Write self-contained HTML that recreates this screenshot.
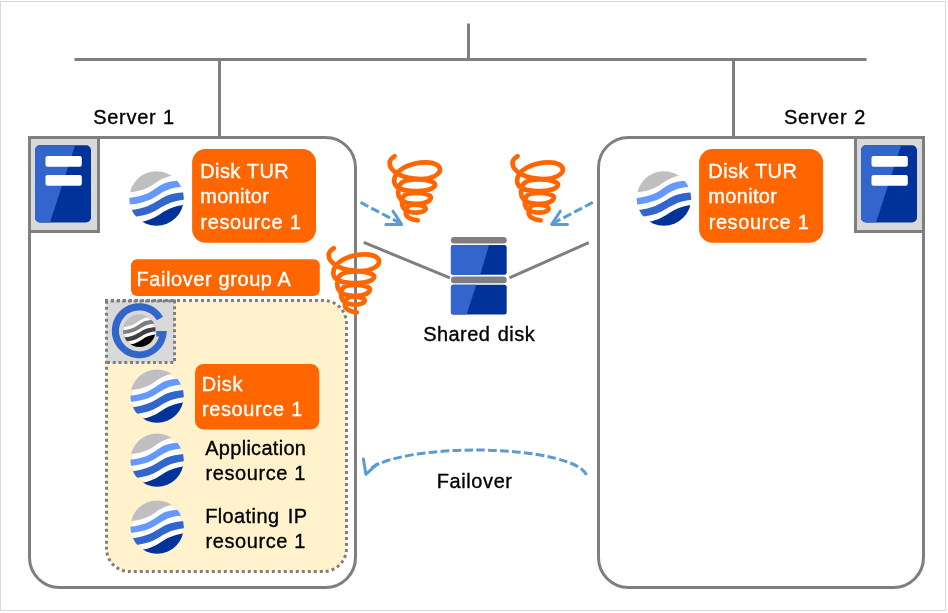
<!DOCTYPE html>
<html lang="en"><head><meta charset="utf-8"><title>Failover diagram</title>
<style>
html,body{margin:0;padding:0;background:#fff;}
body{width:948px;height:613px;overflow:hidden;}
svg{display:block;will-change:transform;}
svg text{white-space:pre;font-family:"Liberation Sans",sans-serif;font-size:20px;stroke-width:0.35px;}
</style></head><body>
<svg width="948" height="613" viewBox="0 0 948 613">
<defs>
<clipPath id="wclip"><circle cx="0" cy="0" r="27.3"/></clipPath>
</defs>
<rect x="0" y="0" width="948" height="613" fill="#fff"/>
<rect x="0.5" y="1.5" width="945" height="609" fill="none" stroke="#d9d9d9" stroke-width="1"/>

<!-- network lines and server frames -->
<g stroke="#7f7f7f" stroke-width="3" fill="none">
<line x1="74.5" y1="59.5" x2="866.5" y2="59.5"/>
<line x1="468.5" y1="23.5" x2="468.5" y2="59.5"/>
<line x1="219.5" y1="59.5" x2="219.5" y2="137.5"/>
<line x1="733.5" y1="59.5" x2="733.5" y2="137.5"/>
<path d="M29.5,137.5 H325.5 A30,30 0 0 1 355.5,167.5 V557.5 A30,30 0 0 1 325.5,587.5 H59.5 A30,30 0 0 1 29.5,557.5 Z" fill="#fff"/>
<path d="M628.5,137.5 H923.5 V557.5 A30,30 0 0 1 893.5,587.5 H628.5 A30,30 0 0 1 598.5,557.5 V167.5 A30,30 0 0 1 628.5,137.5 Z" fill="#fff"/>
<rect x="29.5" y="137.5" width="69" height="94" fill="#d9d9d9"/>
<rect x="855.5" y="137.5" width="68" height="94" fill="#d9d9d9"/>
<line x1="363.8" y1="242.4" x2="449.9" y2="277.9"/>
<line x1="509.4" y1="277.9" x2="588.8" y2="242.6"/>
</g>
<g transform="translate(35,145.3)">
<rect x="0" y="0" width="56" height="77.2" rx="5" fill="#003399"/>
<path d="M5,0 H40.1 L15,77.2 H5 A5,5 0 0 1 0,72.2 V5 A5,5 0 0 1 5,0 Z" fill="#3366cc"/>
<rect x="10.5" y="10.6" width="36.3" height="10.9" rx="2" fill="#fff"/>
<rect x="10.5" y="29.6" width="36.3" height="10.9" rx="2" fill="#fff"/>
</g>
<g transform="translate(861,145.3)">
<rect x="0" y="0" width="56" height="77.2" rx="5" fill="#003399"/>
<path d="M5,0 H40.1 L15,77.2 H5 A5,5 0 0 1 0,72.2 V5 A5,5 0 0 1 5,0 Z" fill="#3366cc"/>
<rect x="10.5" y="10.6" width="36.3" height="10.9" rx="2" fill="#fff"/>
<rect x="10.5" y="29.6" width="36.3" height="10.9" rx="2" fill="#fff"/>
</g>

<!-- failover group -->
<path d="M105,300.5 H323.5 A23,23 0 0 1 346.5,323.5 V548.5 A23,23 0 0 1 323.5,571.5 H129.5 A23,23 0 0 1 106.5,548.5 V299 Z" fill="#fff2cc"/>
<rect x="106.5" y="300.5" width="68" height="62" fill="#d9d9d9"/>
<g fill="none" stroke="#7f7f7f" stroke-width="3">
<path d="M105,300.5 H323.5 A23,23 0 0 1 346.5,323.5 V548.5 A23,23 0 0 1 323.5,571.5 H129.5 A23,23 0 0 1 106.5,548.5 V299" stroke-dasharray="3 3"/>
<path d="M105,301 H174.5 V362.5 H106.5" stroke-dasharray="3 2.75"/>
</g>

<!-- group icon -->
<g transform="translate(139.3,330.6)">
<path d="M23.7,-13.9 A27.5,27.5 0 1 0 27.5,0.5 H17 V6 H19.8 A20.5,20.5 0 1 1 17.6,-10.4 Z" fill="#3366cc"/>
</g>
<g transform="translate(139.3,330.6) scale(0.5971)" clip-path="url(#wclip)">
<circle cx="0" cy="0" r="25.4" fill="#fff"/>
<path d="M-30,-5.9 C-12.8,-6.9 -6.8,-11.4 0.19999999999999996,-16.4 C6.2,-20.4 11.2,-21.9 15.2,-22.9 L30,-23.4 L30,-40 L-30,-40 Z" fill="#bfbfbf"/>
<path d="M-30,-0.1 C-10.8,-2.1 -5.8,-6.6 1.2,-11.4 C8.2,-16.1 13.2,-17.6 30,-18.6 L30,-12.2 C15.2,-11.6 10.2,-8.6 3.2,-4.6 C-4.8,0.9 -10.8,4.4 -30,6.4 Z" fill="#7f7f7f"/>
<path d="M-30,12.1 C-10.8,10.1 -4.8,5.6 2.5999999999999996,1.4 C10.2,-3.4 15.2,-5.2 30,-6.4 L30,1 C17.2,2 12.2,4.8 4.2,9.1 C-3.8,14.3 -8.8,17.3 -30,19.3 Z" fill="#404040"/>
<path d="M-30,25.7 C-8.8,23.2 -3.8,20.2 4.2,15.2 C11.2,10.7 17.2,7.7 30,6 L30,40 L-30,40 Z" fill="#000000"/>
</g>

<!-- orange labels -->
<rect x="192.1" y="149" width="123.9" height="93.7" rx="13.5" fill="#ff6600"/>
<rect x="699.1" y="149" width="124.1" height="93.7" rx="13.5" fill="#ff6600"/>
<rect x="131" y="259.3" width="188.8" height="36.6" rx="6" fill="#ff6600"/>
<rect x="195" y="364" width="124.3" height="65.4" rx="8.5" fill="#ff6600"/>

<g transform="translate(156.5,198.5) scale(1.0000)" clip-path="url(#wclip)">
<circle cx="0" cy="0" r="27.3" fill="#fff"/>
<path d="M-30,-5.9 C-12.8,-6.9 -6.8,-11.4 0.19999999999999996,-16.4 C6.2,-20.4 11.2,-21.9 15.2,-22.9 L30,-23.4 L30,-40 L-30,-40 Z" fill="#bfbfbf"/>
<path d="M-30,-0.1 C-10.8,-2.1 -5.8,-6.6 1.2,-11.4 C8.2,-16.1 13.2,-17.6 30,-18.6 L30,-12.2 C15.2,-11.6 10.2,-8.6 3.2,-4.6 C-4.8,0.9 -10.8,4.4 -30,6.4 Z" fill="#6699ff"/>
<path d="M-30,12.1 C-10.8,10.1 -4.8,5.6 2.5999999999999996,1.4 C10.2,-3.4 15.2,-5.2 30,-6.4 L30,1 C17.2,2 12.2,4.8 4.2,9.1 C-3.8,14.3 -8.8,17.3 -30,19.3 Z" fill="#3366cc"/>
<path d="M-30,25.7 C-8.8,23.2 -3.8,20.2 4.2,15.2 C11.2,10.7 17.2,7.7 30,6 L30,40 L-30,40 Z" fill="#003399"/>
</g>
<g transform="translate(663.9,198.5) scale(1.0000)" clip-path="url(#wclip)">
<circle cx="0" cy="0" r="27.3" fill="#fff"/>
<path d="M-30,-5.9 C-12.8,-6.9 -6.8,-11.4 0.19999999999999996,-16.4 C6.2,-20.4 11.2,-21.9 15.2,-22.9 L30,-23.4 L30,-40 L-30,-40 Z" fill="#bfbfbf"/>
<path d="M-30,-0.1 C-10.8,-2.1 -5.8,-6.6 1.2,-11.4 C8.2,-16.1 13.2,-17.6 30,-18.6 L30,-12.2 C15.2,-11.6 10.2,-8.6 3.2,-4.6 C-4.8,0.9 -10.8,4.4 -30,6.4 Z" fill="#6699ff"/>
<path d="M-30,12.1 C-10.8,10.1 -4.8,5.6 2.5999999999999996,1.4 C10.2,-3.4 15.2,-5.2 30,-6.4 L30,1 C17.2,2 12.2,4.8 4.2,9.1 C-3.8,14.3 -8.8,17.3 -30,19.3 Z" fill="#3366cc"/>
<path d="M-30,25.7 C-8.8,23.2 -3.8,20.2 4.2,15.2 C11.2,10.7 17.2,7.7 30,6 L30,40 L-30,40 Z" fill="#003399"/>
</g>
<g transform="translate(157.1,396.1) scale(0.9780)" clip-path="url(#wclip)">
<circle cx="0" cy="0" r="25.2" fill="#fff"/>
<path d="M-30,-5.9 C-12.8,-6.9 -6.8,-11.4 0.19999999999999996,-16.4 C6.2,-20.4 11.2,-21.9 15.2,-22.9 L30,-23.4 L30,-40 L-30,-40 Z" fill="#bfbfbf"/>
<path d="M-30,-0.1 C-10.8,-2.1 -5.8,-6.6 1.2,-11.4 C8.2,-16.1 13.2,-17.6 30,-18.6 L30,-12.2 C15.2,-11.6 10.2,-8.6 3.2,-4.6 C-4.8,0.9 -10.8,4.4 -30,6.4 Z" fill="#6699ff"/>
<path d="M-30,12.1 C-10.8,10.1 -4.8,5.6 2.5999999999999996,1.4 C10.2,-3.4 15.2,-5.2 30,-6.4 L30,1 C17.2,2 12.2,4.8 4.2,9.1 C-3.8,14.3 -8.8,17.3 -30,19.3 Z" fill="#3366cc"/>
<path d="M-30,25.7 C-8.8,23.2 -3.8,20.2 4.2,15.2 C11.2,10.7 17.2,7.7 30,6 L30,40 L-30,40 Z" fill="#003399"/>
</g>
<g transform="translate(157.1,460.1) scale(0.9780)" clip-path="url(#wclip)">
<circle cx="0" cy="0" r="25.2" fill="#fff"/>
<path d="M-30,-5.9 C-12.8,-6.9 -6.8,-11.4 0.19999999999999996,-16.4 C6.2,-20.4 11.2,-21.9 15.2,-22.9 L30,-23.4 L30,-40 L-30,-40 Z" fill="#bfbfbf"/>
<path d="M-30,-0.1 C-10.8,-2.1 -5.8,-6.6 1.2,-11.4 C8.2,-16.1 13.2,-17.6 30,-18.6 L30,-12.2 C15.2,-11.6 10.2,-8.6 3.2,-4.6 C-4.8,0.9 -10.8,4.4 -30,6.4 Z" fill="#6699ff"/>
<path d="M-30,12.1 C-10.8,10.1 -4.8,5.6 2.5999999999999996,1.4 C10.2,-3.4 15.2,-5.2 30,-6.4 L30,1 C17.2,2 12.2,4.8 4.2,9.1 C-3.8,14.3 -8.8,17.3 -30,19.3 Z" fill="#3366cc"/>
<path d="M-30,25.7 C-8.8,23.2 -3.8,20.2 4.2,15.2 C11.2,10.7 17.2,7.7 30,6 L30,40 L-30,40 Z" fill="#003399"/>
</g>
<g transform="translate(157.1,527.1) scale(0.9780)" clip-path="url(#wclip)">
<circle cx="0" cy="0" r="25.2" fill="#fff"/>
<path d="M-30,-5.9 C-12.8,-6.9 -6.8,-11.4 0.19999999999999996,-16.4 C6.2,-20.4 11.2,-21.9 15.2,-22.9 L30,-23.4 L30,-40 L-30,-40 Z" fill="#bfbfbf"/>
<path d="M-30,-0.1 C-10.8,-2.1 -5.8,-6.6 1.2,-11.4 C8.2,-16.1 13.2,-17.6 30,-18.6 L30,-12.2 C15.2,-11.6 10.2,-8.6 3.2,-4.6 C-4.8,0.9 -10.8,4.4 -30,6.4 Z" fill="#6699ff"/>
<path d="M-30,12.1 C-10.8,10.1 -4.8,5.6 2.5999999999999996,1.4 C10.2,-3.4 15.2,-5.2 30,-6.4 L30,1 C17.2,2 12.2,4.8 4.2,9.1 C-3.8,14.3 -8.8,17.3 -30,19.3 Z" fill="#3366cc"/>
<path d="M-30,25.7 C-8.8,23.2 -3.8,20.2 4.2,15.2 C11.2,10.7 17.2,7.7 30,6 L30,40 L-30,40 Z" fill="#003399"/>
</g>

<!-- shared disk -->
<g>
<rect x="450.9" y="237" width="55.8" height="6.6" rx="3.3" fill="#7f7f7f"/>
<rect x="450.9" y="276.6" width="55.8" height="6.6" rx="3.3" fill="#7f7f7f"/>
<rect x="450.9" y="245" width="55.8" height="29.7" rx="2.5" fill="#003399"/>
<path d="M453.4,245 H489 L480.2,274.7 H453.4 A2.5,2.5 0 0 1 450.9,272.2 V247.5 A2.5,2.5 0 0 1 453.4,245 Z" fill="#3366cc"/>
<rect x="450.9" y="284.7" width="55.8" height="29.7" rx="2.5" fill="#003399"/>
<path d="M453.4,284.7 H476.3 L466.6,314.4 H453.4 A2.5,2.5 0 0 1 450.9,311.9 V287.2 A2.5,2.5 0 0 1 453.4,284.7 Z" fill="#3366cc"/>
</g>

<!-- arrows -->
<g stroke="#5b9bd5" stroke-width="3" fill="none" stroke-linejoin="round">
<line x1="360.5" y1="202.4" x2="401" y2="223.6" stroke-dasharray="8.8 3.4"/>
<polyline points="393,211.2 401.6,224.4 385.8,224.5" stroke-linecap="round"/>
<line x1="592.8" y1="202.4" x2="552.3" y2="223.6" stroke-dasharray="8.8 3.4"/>
<polyline points="560.3,211.2 551.7,224.4 567.5,224.5" stroke-linecap="round"/>
<path d="M371.7,467.76 A110.5,26.2 0 0 1 476.3,450 A110.5,27.5 0 0 1 586.8,477.5" stroke-dasharray="8.6 3.3"/>
<polyline points="363.4,459 365.9,474.3 377,464.2" stroke-linecap="round"/>
</g>

<path d="M394.6,156.2 C391.5,158 389.6,160.5 389.6,163.1 C389.60,171.88 403.48,179.00 420.60,179.00 C431.31,179.00 440.00,174.79 440.00,169.60 C440.00,165.57 433.96,162.30 426.50,162.30 C408.66,162.30 394.20,170.67 394.20,181.00 C394.20,189.08 403.72,191.10 418.00,191.10 C427.44,191.10 435.10,188.19 435.10,184.60 C435.10,181.76 427.00,179.45 417.00,179.45 C401.02,179.45 398.20,184.29 398.20,192.20 C398.20,201.52 406.12,203.85 418.00,203.85 C425.12,203.85 430.90,200.87 430.90,197.20 C430.90,194.83 424.23,192.90 416.00,192.90 C404.01,192.90 401.90,196.28 401.90,201.80 C401.90,210.44 407.82,212.60 416.70,212.60 C421.67,212.60 425.70,210.81 425.70,208.60 C425.70,206.45 420.91,204.70 415.00,204.70 C407.18,204.70 405.80,207.89 405.80,213.10 C405.8,217 411,219.8 417.7,220.3" fill="none" stroke="#ff6600" stroke-width="4.7" stroke-linecap="round" stroke-linejoin="round"/>
<path transform="translate(122.9,0)" d="M394.6,156.2 C391.5,158 389.6,160.5 389.6,163.1 C389.60,171.88 403.48,179.00 420.60,179.00 C431.31,179.00 440.00,174.79 440.00,169.60 C440.00,165.57 433.96,162.30 426.50,162.30 C408.66,162.30 394.20,170.67 394.20,181.00 C394.20,189.08 403.72,191.10 418.00,191.10 C427.44,191.10 435.10,188.19 435.10,184.60 C435.10,181.76 427.00,179.45 417.00,179.45 C401.02,179.45 398.20,184.29 398.20,192.20 C398.20,201.52 406.12,203.85 418.00,203.85 C425.12,203.85 430.90,200.87 430.90,197.20 C430.90,194.83 424.23,192.90 416.00,192.90 C404.01,192.90 401.90,196.28 401.90,201.80 C401.90,210.44 407.82,212.60 416.70,212.60 C421.67,212.60 425.70,210.81 425.70,208.60 C425.70,206.45 420.91,204.70 415.00,204.70 C407.18,204.70 405.80,207.89 405.80,213.10 C405.8,217 411,219.8 417.7,220.3" fill="none" stroke="#ff6600" stroke-width="4.7" stroke-linecap="round" stroke-linejoin="round"/>
<path transform="translate(-60.9,92.0)" d="M394.6,156.2 C391.5,158 389.6,160.5 389.6,163.1 C389.60,171.88 403.48,179.00 420.60,179.00 C431.31,179.00 440.00,174.79 440.00,169.60 C440.00,165.57 433.96,162.30 426.50,162.30 C408.66,162.30 394.20,170.67 394.20,181.00 C394.20,189.08 403.72,191.10 418.00,191.10 C427.44,191.10 435.10,188.19 435.10,184.60 C435.10,181.76 427.00,179.45 417.00,179.45 C401.02,179.45 398.20,184.29 398.20,192.20 C398.20,201.52 406.12,203.85 418.00,203.85 C425.12,203.85 430.90,200.87 430.90,197.20 C430.90,194.83 424.23,192.90 416.00,192.90 C404.01,192.90 401.90,196.28 401.90,201.80 C401.90,210.44 407.82,212.60 416.70,212.60 C421.67,212.60 425.70,210.81 425.70,208.60 C425.70,206.45 420.91,204.70 415.00,204.70 C407.18,204.70 405.80,207.89 405.80,213.10 C405.8,217 411,219.8 417.7,220.3" fill="none" stroke="#ff6600" stroke-width="4.7" stroke-linecap="round" stroke-linejoin="round"/>

<!-- labels -->
<g class="lbl">
<text transform="translate(93.27,123.7) scale(1,1.045)" fill="#000" stroke="#000" style="letter-spacing:0.7px;word-spacing:0.3px;">Server 1</text>
<text transform="translate(783.97,123.7) scale(1,1.045)" fill="#000" stroke="#000" style="letter-spacing:0.75px;word-spacing:0.5px;">Server 2</text>
<text transform="translate(423.17,340.8) scale(1,1.045)" fill="#000" stroke="#000" style="letter-spacing:0.45px;word-spacing:1.5px;">Shared disk</text>
<text transform="translate(436.73,487.8) scale(1,1.045)" fill="#000" stroke="#000" style="letter-spacing:0.6px;">Failover</text>
<text transform="translate(205.19,454.8) scale(1,1.045)" fill="#000" stroke="#000" style="letter-spacing:0.3px;">Application</text>
<text transform="translate(205.45,479.7) scale(1,1.045)" fill="#000" stroke="#000" style="letter-spacing:0.6px;">resource 1</text>
<text transform="translate(205.13,523.0) scale(1,1.045)" fill="#000" stroke="#000" style="letter-spacing:0.4px;word-spacing:2.5px;">Floating IP</text>
<text transform="translate(205.45,547.7) scale(1,1.045)" fill="#000" stroke="#000" style="letter-spacing:0.6px;">resource 1</text>
<text transform="translate(200.23,177.8) scale(1,1.045)" fill="#fff" stroke="#fff" style="letter-spacing:0.4px;word-spacing:0.6px;">Disk TUR</text>
<text transform="translate(200.15,202.7) scale(1,1.045)" fill="#fff" stroke="#fff" style="letter-spacing:0.35px;">monitor</text>
<text transform="translate(200.55,228.9) scale(1,1.045)" fill="#fff" stroke="#fff" style="letter-spacing:0.6px;word-spacing:0.5px;">resource 1</text>
<text transform="translate(708.33,177.8) scale(1,1.045)" fill="#fff" stroke="#fff" style="letter-spacing:0.4px;word-spacing:0.6px;">Disk TUR</text>
<text transform="translate(708.25,202.7) scale(1,1.045)" fill="#fff" stroke="#fff" style="letter-spacing:0.35px;">monitor</text>
<text transform="translate(708.65,228.9) scale(1,1.045)" fill="#fff" stroke="#fff" style="letter-spacing:0.6px;word-spacing:0.5px;">resource 1</text>
<text transform="translate(136.43,285.8) scale(1,1.045)" fill="#fff" stroke="#fff" style="letter-spacing:0.6px;">Failover group A</text>
<text transform="translate(201.73,391.2) scale(1,1.045)" fill="#fff" stroke="#fff" style="letter-spacing:0.6px;">Disk</text>
<text transform="translate(202.05,416.3) scale(1,1.045)" fill="#fff" stroke="#fff" style="letter-spacing:0.6px;word-spacing:0.5px;">resource 1</text>
</g>
</svg>
</body></html>
